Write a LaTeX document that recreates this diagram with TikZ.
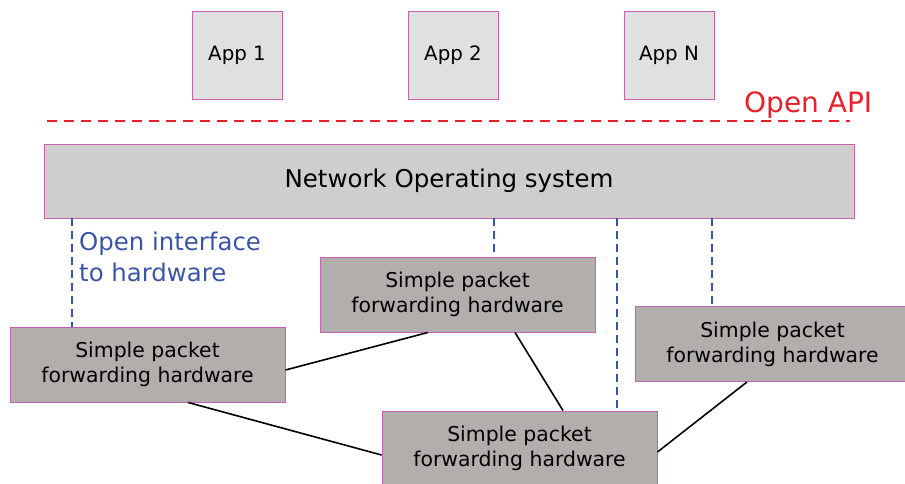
\documentclass[tikz,border=0pt]{standalone}
\usepackage{fontspec}
\setmainfont{DejaVu Sans}
\usetikzlibrary{calc, arrows.meta}
\definecolor{boxedge}{HTML}{C462B4}
\definecolor{appgray}{HTML}{E0E0E0}
\definecolor{osgray}{HTML}{D0CECC}
\definecolor{hwgray}{HTML}{B2AEAC}
\definecolor{apired}{HTML}{E8202A}
\definecolor{ifblue}{HTML}{3A55A8}
\tikzset{>=latex,
  app/.style={draw=boxedge, fill=appgray, line width=0.9pt,
    minimum width=90pt, minimum height=88pt, inner sep=0pt,
    font=\fontsize{19.8}{23}\selectfont},
  hw/.style={draw=boxedge, fill=hwgray, line width=0.9pt,
    minimum width=275pt, minimum height=75pt, inner sep=0pt, align=center,
    font=\fontsize{20.4}{25}\selectfont},
  iface/.style={draw=ifblue, line width=1.8pt, dash pattern=on 8pt off 5pt},
  link/.style={line width=1.6pt}
}
\begin{document}
\begin{tikzpicture}[x={(1pt,0)}, y={(0,-1pt)}]
    \useasboundingbox (0,0) rectangle (905,483);
    \clip (0,0) rectangle (905,483);
    % applications
    \node[app] (app1) at (237,55) {App 1};
    \node[app] (app2) at (453,55) {App 2};
    \node[app] (appN) at (669,55) {App N};
    % northbound API
    \coordinate (apiL) at (47,121);
    \coordinate (apiR) at (850,121);
    \draw[apired, line width=1.8pt, dash pattern=on 10pt off 7pt] (apiL) -- (apiR);
    \node[anchor=base west, inner sep=0pt, text=apired,
      font=\fontsize{28}{32}\selectfont] (api) at (744,112) {Open API};
    % controller
    \node[draw=boxedge, fill=osgray, line width=0.9pt, minimum width=810pt,
      minimum height=74pt, font=\fontsize{24.5}{28}\selectfont] (nos) at (449,181)
      {Network Operating system};
    % switches
    \node[hw] (hwA) at (147.5,364.5) {Simple packet\\forwarding hardware};
    \node[hw] (hwB) at (457.5,294.5) {Simple packet\\forwarding hardware};
    \node[hw] (hwC) at (772.5,344) {Simple packet\\forwarding hardware};
    \node[hw] (hwD) at (519.5,448.5) {Simple packet\\forwarding hardware};
    % southbound interface
    \draw[iface] (72,0 |- nos.south) -- (72,0 |- hwA.north);
    \draw[iface] (494,0 |- nos.south) -- (494,0 |- hwB.north);
    \draw[iface] (617,0 |- nos.south) -- ($(617,0 |- hwD.north)+(0,-2)$);
    \draw[iface] (712,0 |- nos.south) -- (712,0 |- hwC.north);
    \node[anchor=base west, inner sep=0pt, text=ifblue, align=left,
      font=\fontsize{24.4}{31}\selectfont] (iftext) at (79,281)
      {Open interface\\to hardware};
    % links
    \draw[link] (hwA.east |- 0,370) -- (428,0 |- hwB.south);
    \draw[link] (515,0 |- hwB.south) -- (563,0 |- hwD.north);
    \draw[link] (188,0 |- hwA.south) -- (hwD.west |- 0,455);
    \draw[link] (hwD.east |- 0,452) -- (747,0 |- hwC.south);
\end{tikzpicture}
\end{document}
